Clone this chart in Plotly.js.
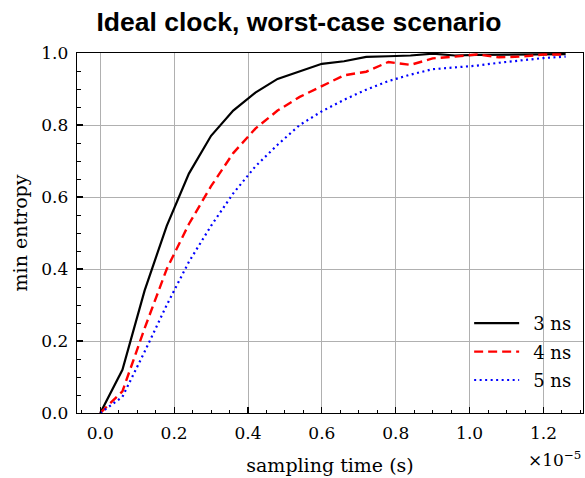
<!DOCTYPE html>
<html>
<head>
<meta charset="utf-8">
<script src="https://cdn.plot.ly/plotly-3.0.1.min.js"></script>
<style>
  html, body { margin: 0; padding: 0; background: #fff; }
  #chart { width: 585px; height: 478px; }
</style>
</head>
<body>
<div id="chart"></div>
<script>
// Sampling times in seconds
const samplingTime = [0, 0.6e-6, 1.2e-6, 1.8e-6, 2.4e-6, 3.0e-6, 3.6e-6, 4.2e-6, 4.8e-6, 5.4e-6, 6.0e-6,
  6.6e-6, 7.2e-6, 7.8e-6, 8.4e-6, 9.0e-6, 9.6e-6, 10.2e-6, 10.8e-6, 11.4e-6, 12.0e-6, 12.6e-6];

// Min entropy for each clock jitter setting
const entropy3ns = [0, 0.12, 0.34, 0.52, 0.665, 0.77, 0.84, 0.89, 0.928, 0.948, 0.970,
  0.977, 0.989, 0.991, 0.993, 0.998, 0.993, 0.995, 0.996, 0.996, 0.997, 0.997];
const entropy4ns = [0, 0.06, 0.235, 0.40, 0.525, 0.63, 0.722, 0.79, 0.84, 0.878, 0.908,
  0.938, 0.948, 0.975, 0.967, 0.985, 0.99, 0.996, 0.988, 0.99, 0.996, 0.996];
const entropy5ns = [0, 0.045, 0.17, 0.30, 0.42, 0.52, 0.61, 0.685, 0.745, 0.80, 0.838,
  0.87, 0.898, 0.922, 0.94, 0.955, 0.96, 0.965, 0.973, 0.98, 0.986, 0.99];

const seriesNames = ['3 ns', '4 ns', '5 ns'];

// Tick positions (seconds) and their labels in units of 1e-5 s
const xTickVals = [0, 2e-6, 4e-6, 6e-6, 8e-6, 10e-6, 12e-6];
const xTickText = ['0.0', '0.2', '0.4', '0.6', '0.8', '1.0', '1.2'];
const yTickVals = [0, 0.2, 0.4, 0.6, 0.8, 1.0];
const yTickText = ['0.0', '0.2', '0.4', '0.6', '0.8', '1.0'];

const serif = 'DejaVu Serif, Liberation Serif, serif';
const gap = '\u2002'; // space between legend sample line and label

const traces = [
  { x: samplingTime, y: entropy3ns, name: gap + seriesNames[0], legendgroup: 'a', mode: 'lines',
    line: { color: '#000000', width: 2.2 } },
  { x: samplingTime, y: entropy4ns, name: gap + seriesNames[1], legendgroup: 'b', mode: 'lines',
    line: { color: '#ff0000', width: 2.4, dash: '9px,5px' } },
  { x: samplingTime, y: entropy5ns, name: gap + seriesNames[2], legendgroup: 'c', mode: 'lines',
    line: { color: '#0000ff', width: 2.2, dash: '2px,3.5px' } }
];

const xRange = [-0.63e-6, 13.07e-6];
const yRange = [0, 1];
const xMinor = { dtick: 0.5e-6, tick0: 0, ticks: 'inside', ticklen: 3.5, tickwidth: 1, tickcolor: '#000', showgrid: false };
const yMinor = { dtick: 0.05, tick0: 0, ticks: 'inside', ticklen: 3.5, tickwidth: 1, tickcolor: '#000', showgrid: false };

const axisCommon = {
  showline: true, linecolor: '#000', linewidth: 1.3, mirror: true,
  ticks: 'inside', ticklen: 6, tickwidth: 1.1, tickcolor: '#000',
  showgrid: true, gridcolor: '#b0b0b0', gridwidth: 1,
  zeroline: false,
  tickfont: { family: serif, size: 17, color: '#000' },
  tickmode: 'array'
};

// Unlabelled top/right axes that carry the inward ticks on the opposite sides
const mirrorCommon = {
  showline: false, ticks: 'inside', ticklen: 6, tickwidth: 1.1, tickcolor: '#000',
  showgrid: false, zeroline: false, showticklabels: false, tickmode: 'array'
};

const layout = {
  width: 585, height: 478,
  margin: { l: 77, r: 2, t: 53, b: 65 },
  paper_bgcolor: '#fff', plot_bgcolor: '#fff',
  title: {
    text: '<b>Ideal clock, worst-case scenario</b>',
    font: { family: 'Liberation Sans, Arial, sans-serif', size: 26.5, color: '#000' },
    x: 0.511, xref: 'container', xanchor: 'center',
    y: 0.955, yref: 'container', yanchor: 'middle'
  },
  xaxis: Object.assign({}, axisCommon, {
    range: xRange,
    tickvals: xTickVals, ticktext: xTickText,
    ticklabelstandoff: 4,
    minor: xMinor,
    title: { text: 'sampling time (s)', font: { family: serif, size: 19, color: '#000' }, standoff: 17 }
  }),
  yaxis: Object.assign({}, axisCommon, {
    range: yRange,
    tickvals: yTickVals, ticktext: yTickText,
    ticklabelstandoff: 4,
    minor: yMinor,
    title: { text: 'min entropy', font: { family: serif, size: 19, color: '#000' }, standoff: 8 }
  }),
  xaxis2: Object.assign({}, mirrorCommon, {
    overlaying: 'x', side: 'top', anchor: 'y', range: xRange,
    tickvals: xTickVals, minor: xMinor
  }),
  yaxis2: Object.assign({}, mirrorCommon, {
    overlaying: 'y', side: 'right', anchor: 'x', range: yRange,
    tickvals: yTickVals, minor: yMinor
  }),
  showlegend: true,
  legend: {
    x: 0.775, y: 0.3, xanchor: 'left', yanchor: 'top',
    bgcolor: 'rgba(255,255,255,0)', borderwidth: 0,
    font: { family: serif, size: 18, color: '#000' },
    itemwidth: 45, tracegroupgap: 2
  },
  annotations: [{
    text: '×10<sup>−5</sup>', xref: 'paper', yref: 'paper',
    x: 1.0, y: -0.093, xanchor: 'right', yanchor: 'top', showarrow: false,
    font: { family: serif, size: 17, color: '#000' }
  }]
};

Plotly.newPlot('chart', traces, layout, { displayModeBar: false, staticPlot: true });
</script>
</body>
</html>
